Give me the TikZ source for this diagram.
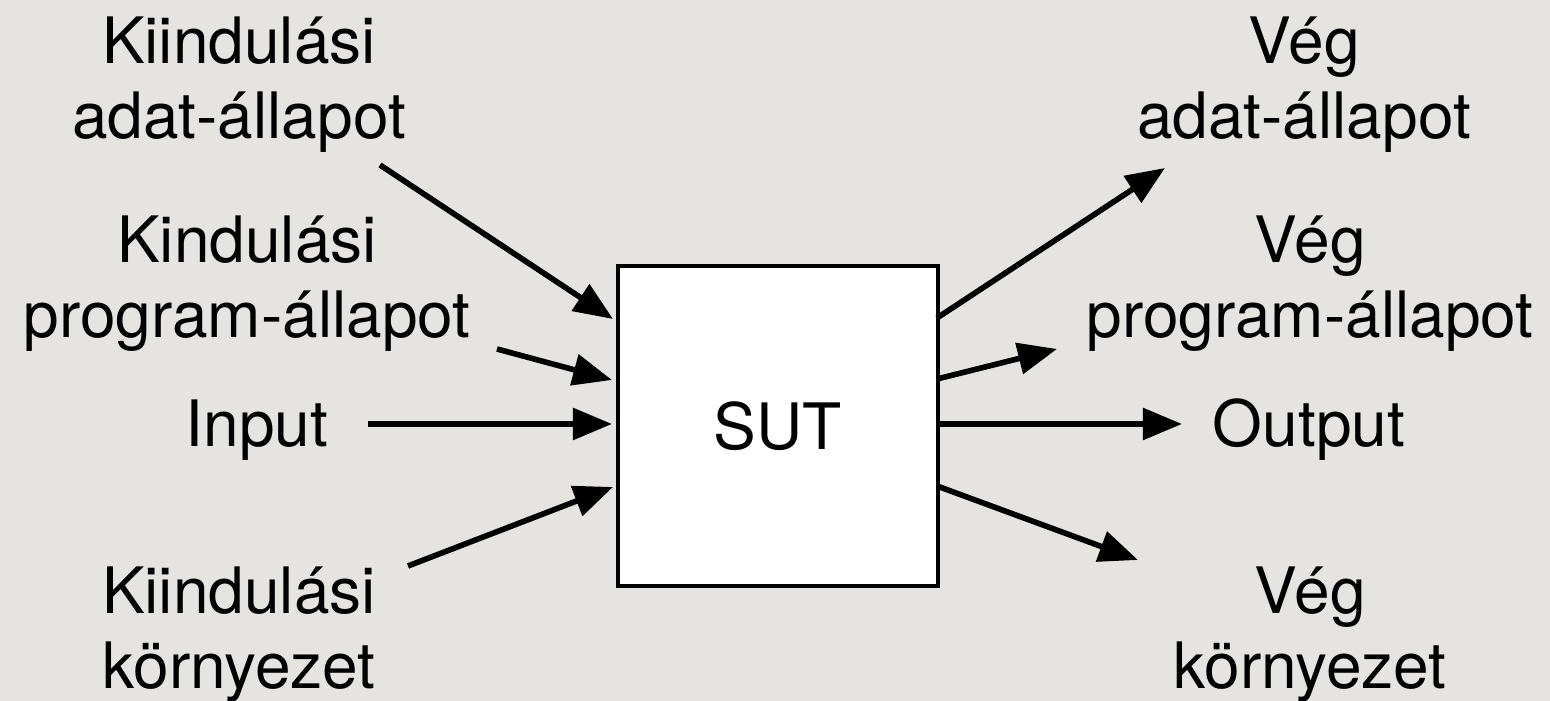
\documentclass[tikz,border=0pt]{standalone}
\usepackage{fontspec}
\setmainfont{TeX Gyre Heros}
\usetikzlibrary{arrows.meta}
\definecolor{bgcol}{RGB}{230,228,224}
\tikzset{
  lbl/.style={anchor=base, align=center, inner sep=0pt, font=\fontsize{18.2pt}{21.5pt}\selectfont},
  sutbox/.style={draw=black, line width=1pt, fill=white, minimum width=3.2cm, minimum height=3.2cm, inner sep=0pt, font=\fontsize{18.2pt}{21.5pt}\selectfont},
  arr/.style={line width=1.6pt, -{Triangle[length=0.39cm, width=0.31cm]}}
}
\begin{document}
\begin{tikzpicture}[x=0.01cm, y=-0.01cm]
\fill[bgcol] (0,0) rectangle (1550,701);
\useasboundingbox (0,0) rectangle (1550,701);

\node[sutbox] (sut) at (778,426) {SUT};

% base anchor = baseline of the last line
\node[lbl] (lka) at (239,139) {Kiindulási\\adat-állapot};
\node[lbl] (lkp) at (247,338) {Kindulási\\program-állapot};
\node[lbl] (lin) at (257,447) {Input};
\node[lbl] (lke) at (239,689) {Kiindulási\\környezet};

\node[lbl] (rva) at (1304,139) {Vég\\adat-állapot};
\node[lbl] (rvp) at (1310,338) {Vég\\program-állapot};
\node[lbl] (rout) at (1309,447) {Output};
\node[lbl] (rve) at (1310,689) {Vég\\környezet};

\coordinate (a1s) at (380,165);  \coordinate (a1e) at (613,319);
\coordinate (a2s) at (497,349);  \coordinate (a2e) at (612,380);
\coordinate (a3s) at (368,424);  \coordinate (a3e) at (612,424);
\coordinate (a4s) at (408,566);  \coordinate (a4e) at (613,487);

\coordinate (b1s) at (937,318);  \coordinate (b1e) at (1165,168);
\coordinate (b2s) at (937,379);  \coordinate (b2e) at (1057,349);
\coordinate (b3s) at (937,424);  \coordinate (b3e) at (1182,424);
\coordinate (b4s) at (937,486);  \coordinate (b4e) at (1138,560);

\draw[arr] (a1s) -- (a1e);
\draw[arr] (a2s) -- (a2e);
\draw[arr] (a3s) -- (a3e);
\draw[arr] (a4s) -- (a4e);
\draw[arr] (b1s) -- (b1e);
\draw[arr] (b2s) -- (b2e);
\draw[arr] (b3s) -- (b3e);
\draw[arr] (b4s) -- (b4e);
\end{tikzpicture}
\end{document}
